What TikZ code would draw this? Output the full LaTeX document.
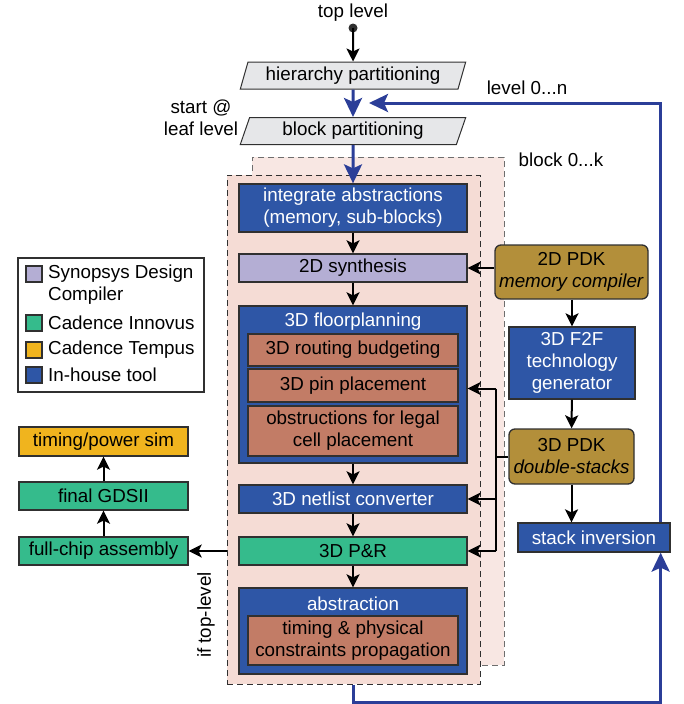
\documentclass[tikz,border=0pt]{standalone}
\usepackage{fontspec}
\setmainfont{Liberation Sans}
\usetikzlibrary{arrows.meta,shapes.geometric}
\definecolor{edge}{HTML}{303030}
\definecolor{inhouse}{HTML}{2E56A6}
\definecolor{synop}{HTML}{B4AED4}
\definecolor{innovus}{HTML}{35BB8C}
\definecolor{tempus}{HTML}{F0B41E}
\definecolor{sub}{HTML}{C27C66}
\definecolor{pdk}{HTML}{B38F3A}
\definecolor{part}{HTML}{E6E7E9}
\definecolor{pinkfront}{HTML}{F5DCD5}
\definecolor{pinkback}{HTML}{F8E7E3}
\definecolor{loop}{HTML}{2B3E98}

\begin{document}
\begin{tikzpicture}[x=1pt,y=-1pt,font=\fontsize{18.8}{22}\selectfont,
    box/.style={draw=edge,line width=1.3pt,minimum width=228pt,inner sep=1pt,align=center},
    subbox/.style={draw=edge,line width=1.3pt,fill=sub,minimum width=210pt,inner sep=1pt,align=center},
    partbox/.style={draw=edge,line width=1pt,fill=part,trapezium,trapezium left angle=70,
        trapezium right angle=110,trapezium stretches=true,minimum width=226pt,minimum height=27pt,inner sep=0pt},
    pdkbox/.style={draw=edge,line width=1.3pt,fill=pdk,rounded corners=6pt,align=center,inner sep=1pt},
    chip/.style={draw=edge,line width=1.3pt,minimum width=169pt,inner sep=1pt},
    key/.style={draw=edge,line width=1.3pt,minimum size=16pt,inner sep=0pt},
    arr/.style={line width=2pt,-{Stealth[length=13pt,width=13pt,inset=3pt]}},
    fb/.style={draw=loop,line width=3pt,-{Stealth[length=19pt,width=18pt,inset=4pt]}}]
\useasboundingbox (0,0) rectangle (683,704);

\node (toplevel) at (353,13) {top level};
\fill[edge] (353,28) circle (4.5pt);
\coordinate (dot) at (353,28);
\node[partbox] (hier) at (353,75.5) {hierarchy partitioning};
\node[partbox] (blockp) at (353,131) {block partitioning};
\node[align=center] (leaf) at (201,118) {start @\\leaf level};
\node (levels) at (527,88) {level 0...n};
\coordinate (mrg) at (369,103);

\node[draw=edge!70,dash pattern=on 6pt off 4pt,line width=1pt,fill=pinkback,minimum width=252pt,minimum height=508pt] (blkback) at (378,411) {};
\node[draw=edge,dash pattern=on 6pt off 4pt,line width=1pt,fill=pinkfront,minimum width=253pt,minimum height=509pt] (blk) at (353.5,429.5) {};
\node (blocks) at (561,160) {block 0...k};

\node[box,fill=inhouse,text=white,minimum height=48pt] (integ) at (353,208) {integrate abstractions\\(memory, sub-blocks)};
\node[box,fill=synop,minimum height=28pt] (synth) at (353,268) {2D synthesis};
\node[box,fill=inhouse,minimum height=157pt] (floor) at (353,384.5) {};
\node[text=white] (floortitle) at (353,322) {3D floorplanning};
\node[subbox,minimum height=32pt] (routing) at (353,350) {3D routing budgeting};
\node[subbox,minimum height=33pt] (pinpl) at (353,385.5) {3D pin placement};
\node[subbox,minimum height=50pt] (obstr) at (353,431) {obstructions for legal\\cell placement};
\node[box,fill=inhouse,text=white,minimum height=28pt] (netl) at (353,499) {3D netlist converter};
\node[box,fill=innovus,minimum height=28pt] (pnr) at (353,551) {3D P\&R};
\node[box,fill=inhouse,minimum height=86pt] (abstr) at (353,631) {};
\node[text=white] (abstrtitle) at (353,604) {abstraction};
\node[subbox,minimum height=49pt] (timing) at (353,640.5) {timing \& physical\\constraints propagation};
\node[rotate=90] (iftop) at (206,615) {if top-level};

\node[draw=edge,line width=1.3pt,fill=white,minimum width=186pt,minimum height=134pt] (legend) at (111,325) {};
\node[key,fill=synop] (ksyn) at (34,274) {};
\node[anchor=west,align=left,inner sep=2pt] at (46,284.5) {Synopsys Design\\Compiler};
\node[key,fill=innovus] (kinn) at (34,323) {};
\node[anchor=west,inner sep=2pt] at (46,323) {Cadence Innovus};
\node[key,fill=tempus] (ktem) at (34,350) {};
\node[anchor=west,inner sep=2pt] at (46,350) {Cadence Tempus};
\node[key,fill=inhouse] (kinh) at (34,375) {};
\node[anchor=west,inner sep=2pt] at (46,375) {In-house tool};

\node[chip,fill=tempus,minimum height=29pt] (tps) at (103.5,441.5) {timing/power sim};
\node[chip,fill=innovus,minimum height=28pt] (gds) at (103.5,496) {final GDSII};
\node[chip,fill=innovus,minimum height=28pt] (fca) at (103.5,551) {full-chip assembly};

\node[pdkbox,minimum width=153pt,minimum height=54pt] (pdk2) at (571.5,272) {2D PDK\\\textit{memory compiler}};
\node[box,fill=inhouse,text=white,minimum width=126pt,minimum height=72pt] (f2f) at (572,363) {3D F2F\\technology\\generator};
\node[pdkbox,minimum width=125pt,minimum height=55pt] (pdk3) at (571.5,456.5) {3D PDK\\\textit{double-stacks}};
\node[box,fill=inhouse,text=white,minimum width=152pt,minimum height=29pt] (stinv) at (594,537.5) {stack inversion};

\draw[arr] (dot) -- (hier.north);
\draw[fb] (hier.south) -- (blockp.north);
\draw[fb] (blockp.south) -- (integ.north);
\draw[arr] (integ) -- (synth);
\draw[arr] (synth) -- (floor);
\draw[arr] (floor) -- (netl);
\draw[arr] (netl) -- (pnr);
\draw[arr] (pnr) -- (abstr);
\draw[arr] (blk.west |- pnr) -- (fca.east);
\draw[arr] (fca) -- (gds);
\draw[arr] (gds) -- (tps);

\draw[arr] (pdk2.west |- synth) -- (synth.east);
\draw[arr] (pdk2.south -| f2f) -- (f2f.north);
\draw[arr] (f2f) -- (pdk3);
\draw[arr] (pdk3.south) -- (stinv.north -| pdk3);
\coordinate (bus) at ([xshift=-12pt]pdk3.west);
\draw[line width=2pt] (pdk3.west) -- (bus);
\draw[line width=2pt] ([yshift=-3pt]bus |- pinpl) -- (bus |- pnr);
\draw[arr] ([yshift=-3pt]bus |- pinpl) -- ([yshift=-3pt]floor.east |- pinpl);
\draw[arr] (bus |- netl) -- (netl.east);
\draw[arr] (bus |- pnr) -- (pnr.east);

\coordinate (ret) at ([xshift=-10pt]stinv.south east);
\draw[fb] (blk.south) -- ++(0,18) -| (ret);
\draw[fb] ([xshift=-10pt]stinv.north east) |- (mrg);
\end{tikzpicture}
\end{document}
